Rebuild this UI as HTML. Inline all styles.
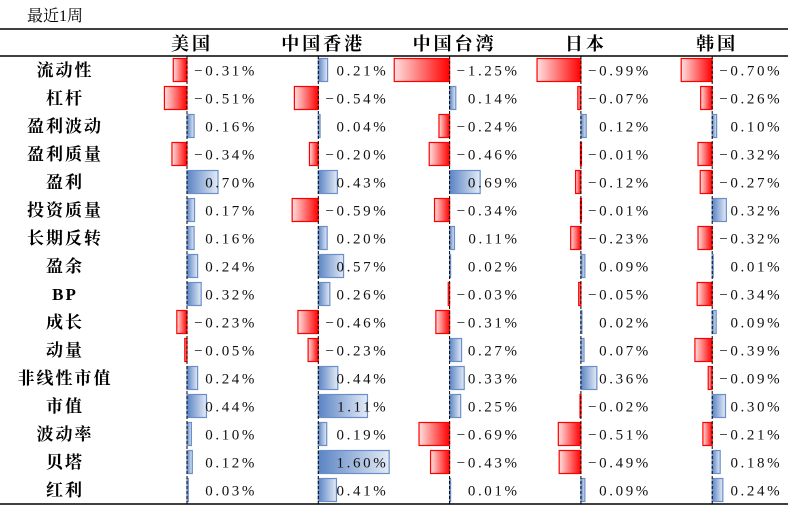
<!DOCTYPE html>
<html><head><meta charset="utf-8">
<style>
html,body{margin:0;padding:0;background:#fff;}
svg{display:block;}
.lbl{font-family:"Liberation Serif","Noto Serif CJK SC",serif;font-weight:bold;font-size:17px;letter-spacing:2px;fill:#000;}
.hdr{font-family:"Liberation Serif","Noto Serif CJK SC",serif;font-weight:bold;font-size:18px;letter-spacing:3px;fill:#000;}
.val{font-family:"Liberation Serif","Noto Serif CJK SC",serif;font-size:15px;letter-spacing:2.6px;fill:#111;}
</style></head>
<body>
<svg id="chart" width="788" height="507" viewBox="0 0 788 507" xmlns="http://www.w3.org/2000/svg">
<defs>
<linearGradient id="gNeg" x1="0" x2="1" y1="0" y2="0"><stop offset="0" stop-color="#ffe0e0"/><stop offset="1" stop-color="#ff0000"/></linearGradient>
<linearGradient id="gPos" x1="0" x2="1" y1="0" y2="0"><stop offset="0" stop-color="#5a84c4"/><stop offset="1" stop-color="#e4ebf6"/></linearGradient>
</defs>
<text x="27" y="21" font-family="Liberation Serif, Noto Serif CJK SC, serif" font-size="16" fill="#000">最近1周</text>
<line x1="0" x2="788" y1="29" y2="29" stroke="#000" stroke-width="1.5"/>
<line x1="0" x2="788" y1="56" y2="56" stroke="#000" stroke-width="1.5"/>
<line x1="0" x2="788" y1="504" y2="504" stroke="#000" stroke-width="1.5"/>
<g id="layer"></g>
</svg>
<script>
const markets = ["美国","中国香港","中国台湾","日本","韩国"];
const factors = ["流动性","杠杆","盈利波动","盈利质量","盈利","投资质量","长期反转","盈余","BP","成长","动量","非线性市值","市值","波动率","贝塔","红利"];
const usVals = [-0.31,-0.51,0.16,-0.34,0.70,0.17,0.16,0.24,0.32,-0.23,-0.05,0.24,0.44,0.10,0.12,0.03];
const hkVals = [0.21,-0.54,0.04,-0.20,0.43,-0.59,0.20,0.57,0.26,-0.46,-0.23,0.44,1.11,0.19,1.60,0.41];
const twVals = [-1.25,0.14,-0.24,-0.46,0.69,-0.34,0.11,0.02,-0.03,-0.31,0.27,0.33,0.25,-0.69,-0.43,0.01];
const jpVals = [-0.99,-0.07,0.12,-0.01,-0.12,-0.01,-0.23,0.09,-0.05,0.02,0.07,0.36,-0.02,-0.51,-0.49,0.09];
const krVals = [-0.70,-0.26,0.10,-0.32,-0.27,0.32,-0.32,0.01,-0.34,0.09,-0.39,-0.09,0.30,-0.21,0.18,0.24];
const series = [usVals,hkVals,twVals,jpVals,krVals];

const NS="http://www.w3.org/2000/svg";
const layer=document.getElementById('layer');
const zero0=187, colW=131.3, pxPer=44.3, rowTop=56, rowH=28;
function xZero(c){return zero0+c*colW;}
function xScale(c,v){return xZero(c)+v*pxPer;}
function yRow(r){return rowTop+r*rowH;}
function mk(tag,attrs){const e=document.createElementNS(NS,tag);for(const k in attrs)e.setAttribute(k,attrs[k]);return e;}

markets.forEach((m,c)=>{
  const t=mk('text',{x:xZero(c)+5,y:50,'text-anchor':'middle',class:'hdr'});
  
  
  t.textContent=m;layer.appendChild(t);
});
factors.forEach((f,r)=>{
  const t=mk('text',{x:65,y:yRow(r)+20,'text-anchor':'middle',class:'lbl'});
  
  
  t.textContent=f;layer.appendChild(t);
});
series.forEach((vals,c)=>{
  vals.forEach((v,r)=>{
    const x0=xZero(c), x1=xScale(c,v);
    const b=mk('rect',{x:Math.min(x0,x1),y:yRow(r)+2.5,width:Math.max(Math.abs(x1-x0),1),height:23,
      fill:v<0?'url(#gNeg)':'url(#gPos)',stroke:v<0?'#ff0000':'#6a8fc8','stroke-width':1.2});
    
    
    layer.appendChild(b);
  });
  const ax=mk('line',{x1:xZero(c),x2:xZero(c),y1:56,y2:504,stroke:'#000','stroke-width':1,'stroke-dasharray':'3,2'});
  
  
  layer.appendChild(ax);
  vals.forEach((v,r)=>{
    const t=mk('text',{x:xZero(c)+70,y:yRow(r)+19.5,'text-anchor':'end',class:'val'});
    
    
    t.textContent=(v<0?'−':'')+Math.abs(v).toFixed(2)+'%';
    layer.appendChild(t);
  });
});
</script>
</body></html>
